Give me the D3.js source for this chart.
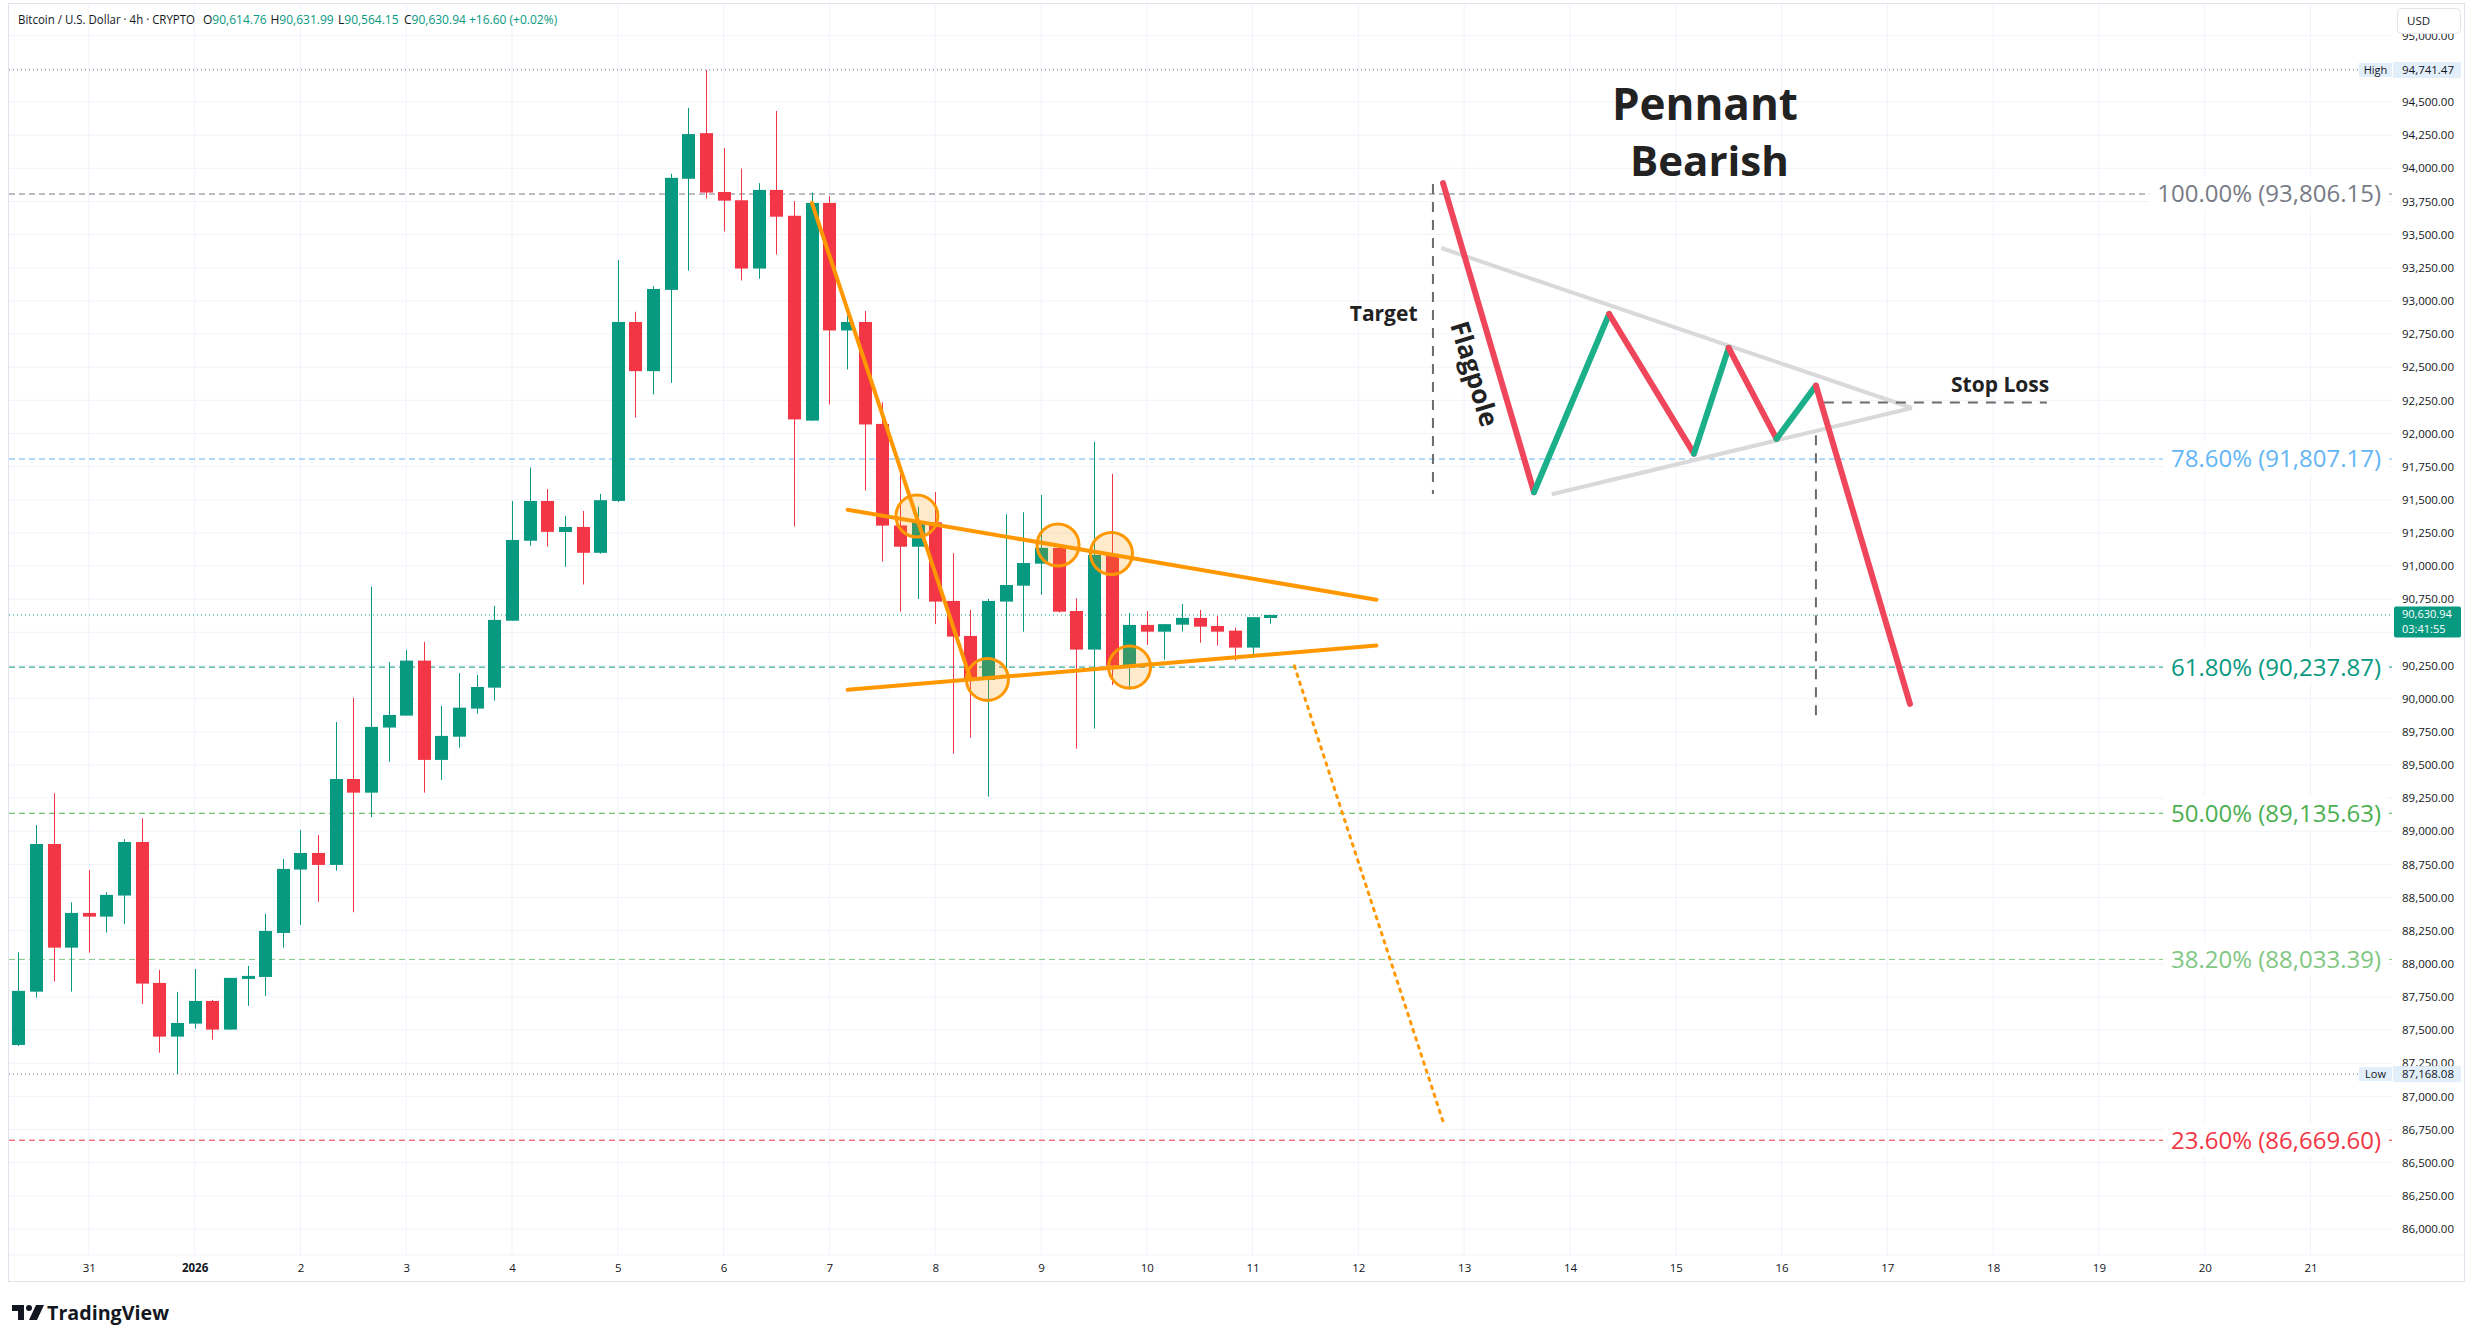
<!DOCTYPE html>
<html><head><meta charset="utf-8">
<script src="https://cdn.jsdelivr.net/npm/d3@7"></script>
<style>
html,body{margin:0;padding:0;background:#fff;}
svg{display:block;font-family:"Open Sans",sans-serif;}
</style></head><body>
<svg id="chart" width="2475" height="1343"></svg>
<script>
// ---------------- DATA ----------------
const candleStart = "2025-12-30T08:00:00Z"; // 4h candles
const opens  = [87388,87790,88904,88122,88384,88356,88515,88919,87856,87451,87549,87720,87504,87886,87901,88233,88711,88836,88746,89394,89291,89782,89872,90287,89538,89713,89925,90083,90588,91191,91491,91257,91295,91100,91491,92841,92470,93083,93921,94265,93821,93759,93244,93837,93642,92097,93739,92777,92841,92072,91306,91146,91330,90737,90473,90141,90732,90852,91018,91137,90661,90370,91084,90249,90556,90505,90558,90609,90548,90513,90385,90614.76];
const highs  = [88088,89047,89287,88464,88708,88540,88940,89098,87954,87788,87962,87728,87894,87984,88376,88791,89010,88972,89824,90007,90845,90277,90367,90428,89945,90192,90179,90699,91491,91743,91581,91379,91416,91544,93308,92918,93110,93959,94456,94741.47,94153,93998,93888,94433,93753,93817,93790,92894,92924,92235,91750,91448,91559,91097,90669,90752,91391,91406,91536,91154,90757,91936,91695,90646,90661,90563,90714,90669,90624,90535,90615,90631.99];
const lows   = [87380,87745,87866,87790,88084,88235,88301,87698,87330,87168.08,87511,87428,87504,87683,87758,88122,88293,88467,88703,88389,89106,89525,89872,89291,89387,89630,89887,89985,90586,91154,91147,90995,90861,91093,91483,92120,92295,92382,93228,93773,93524,93154,93167,93349,91299,92097,92218,92483,91570,91035,90656,90752,90563,89585,89706,89261,90161,90505,90784,90650,89623,89774,90103,90068,90405,90294,90505,90422,90400,90287,90337,90564.15];
const closes = [87796,88904,88122,88384,88356,88520,88919,87851,87451,87554,87720,87504,87894,87909,88248,88716,88836,88746,89394,89291,89787,89877,90287,89538,89719,89932,90088,90594,91197,91491,91258,91295,91100,91497,92841,92470,93090,93928,94258,93817,93756,93244,93837,93635,92106,93739,92777,92841,92068,91305,91146,91330,90732,90468,90141,90737,90857,91023,91137,90656,90370,91084,90249,90556,90505,90562,90609,90543,90505,90385,90614.76,90630.94];

const priceTicks = [86000,86250,86500,86750,87000,87250,87500,87750,88000,88250,88500,88750,89000,89250,89500,89750,90000,90250,90500,90750,91000,91250,91500,91750,92000,92250,92500,92750,93000,93250,93500,93750,94000,94250,94500,94750,95000];
const dayTickDates = ["2025-12-31","2026-01-01","2026-01-02","2026-01-03","2026-01-04","2026-01-05","2026-01-06","2026-01-07","2026-01-08","2026-01-09","2026-01-10","2026-01-11","2026-01-12","2026-01-13","2026-01-14","2026-01-15","2026-01-16","2026-01-17","2026-01-18","2026-01-19","2026-01-20","2026-01-21"];
const dayTickLabels = ["31","2026","2","3","4","5","6","7","8","9","10","11","12","13","14","15","16","17","18","19","20","21"];

const fibLevels = ["100.00%","78.60%","61.80%","50.00%","38.20%","23.60%"];
const fibPrices = [93806.15, 91807.17, 90237.87, 89135.63, 88033.39, 86669.60];
const fibColors = ["#787B86","#64B5F6","#089981","#4CAF50","#81C784","#F23645"];

const highPrice = 94741.47, lowPrice = 87168.08, lastPrice = 90630.94, countdown = "03:41:55";
const header = {title:"Bitcoin / U.S. Dollar · 4h · CRYPTO", o:"90,614.76", h:"90,631.99", l:"90,564.15", c:"90,630.94", chg:"+16.60 (+0.02%)"};

// orange annotations on the live chart
const orangeLines = [
  [["2026-01-06T20:02Z",93739],["2026-01-08T07:56Z",90156]],
  [["2026-01-07T04:08Z",91425],["2026-01-12T04:06Z",90746]],
  [["2026-01-07T04:08Z",90067],["2026-01-12T04:06Z",90400]]
];
const orangeDotted = [["2026-01-11T09:29Z",90247],["2026-01-12T19:29Z",86782]];
const orangeCircles = [["2026-01-07T19:51Z",91377],["2026-01-08T11:51Z",90145],["2026-01-09T03:52Z",91159],["2026-01-09T15:59Z",91095],["2026-01-09T20:06Z",90238]];

// schematic pennant diagram
const pennantPath = [["2026-01-12T19:12Z",93889],["2026-01-13T15:50Z",91557],["2026-01-14T08:53Z",92901],["2026-01-15T04:08Z",91848],["2026-01-15T12:00Z",92646],["2026-01-15T22:53Z",91960],["2026-01-16T07:48Z",92361],["2026-01-17T05:08Z",89960]];
const pennantUpper = [["2026-01-12T18:49Z",93399],["2026-01-17T05:35Z",92192]];
const pennantLower = [["2026-01-13T19:52Z",91542],["2026-01-17T05:35Z",92192]];
const targetLine = [["2026-01-12T16:55Z",93882],["2026-01-12T16:55Z",91544]];
const stopLine = [["2026-01-16T09:36Z",92234],["2026-01-18T12:12Z",92234]];
const breakLine = [["2026-01-16T07:48Z",91987],["2026-01-16T07:48Z",89832]];
const diagramTexts = [
  {t:"Pennant", at:["2026-01-15T06:37Z",94477], size:44, anchor:"middle", rot:0},
  {t:"Bearish", at:["2026-01-15T07:38Z",94055], size:42, anchor:"middle", rot:0},
  {t:"Target", at:["2026-01-12T13:25Z",92901], size:21, anchor:"end", rot:0},
  {t:"Flagpole", at:["2026-01-13T02:20Z",92449], size:26, anchor:"middle", rot:73},
  {t:"Stop Loss", at:["2026-01-17T14:27Z",92366], size:21, anchor:"start", rot:0}
];

// ---------------- LAYOUT ----------------
const svg = d3.select("#chart");
const plot = {left:9, right:2392, top:3, bottom:1255};
const x = d3.scaleUtc().domain([new Date("2025-12-30T06:07:00Z"), new Date("2026-01-21T18:29:00Z")]).range([10, 2392]);
const y = d3.scaleLinear().domain([86000, 94000]).range([1229, 168.3]);
const P = d => [x(new Date(d[0])), y(d[1])];
const GREEN = "#089981", RED = "#F23645";

svg.append("rect").attr("width",2475).attr("height",1343).attr("fill","#fff");

const defs = svg.append("defs");
defs.append("clipPath").attr("id","plotclip").append("rect")
  .attr("x",plot.left).attr("y",plot.top).attr("width",plot.right-plot.left).attr("height",plot.bottom-plot.top);
defs.append("clipPath").attr("id","axisclip").append("rect")
  .attr("x",2392).attr("y",34).attr("width",80).attr("height",plot.bottom-34);

const grid = svg.append("g").attr("clip-path","url(#plotclip)");
grid.selectAll(".hg").data(priceTicks).join("line")
  .attr("x1",plot.left).attr("x2",plot.right).attr("y1",d=>y(d)).attr("y2",d=>y(d))
  .attr("stroke","#F0F3FA").attr("stroke-width",1);
grid.selectAll(".vg").data(dayTickDates).join("line")
  .attr("x1",d=>x(new Date(d+"T00:00:00Z"))).attr("x2",d=>x(new Date(d+"T00:00:00Z")))
  .attr("y1",plot.top).attr("y2",plot.bottom)
  .attr("stroke","#F0F3FA").attr("stroke-width",1);

// fib levels
const fibG = svg.append("g");
fibPrices.forEach((p,i)=>{
  fibG.append("line").attr("x1",plot.left).attr("x2",plot.right).attr("y1",y(p)).attr("y2",y(p))
    .attr("stroke",fibColors[i]).attr("stroke-width",1).attr("stroke-dasharray","6,4");
});
fibPrices.forEach((p,i)=>{
  const bg = fibG.append("rect").attr("fill","#fff");
  const t = fibG.append("text").attr("x",2381).attr("y",y(p)).attr("dy","0.35em")
    .attr("text-anchor","end").attr("font-size",24).attr("fill",fibColors[i])
    .text(`${fibLevels[i]} (${d3.format(",.2f")(p)})`);
  const b = t.node().getBBox();
  bg.attr("x",b.x-8).attr("y",b.y).attr("width",b.width+14).attr("height",b.height);
});

// high / low / last lines
const lines = svg.append("g");
lines.append("line").attr("x1",plot.left).attr("x2",2359).attr("y1",y(highPrice)).attr("y2",y(highPrice))
  .attr("stroke","#787B86").attr("stroke-dasharray","1,3");
lines.append("line").attr("x1",plot.left).attr("x2",2362).attr("y1",y(lowPrice)).attr("y2",y(lowPrice))
  .attr("stroke","#787B86").attr("stroke-dasharray","1,3");
lines.append("line").attr("x1",plot.left).attr("x2",plot.right).attr("y1",y(lastPrice)).attr("y2",y(lastPrice))
  .attr("stroke",GREEN).attr("stroke-dasharray","1,3");

// candles
const candles = opens.map((o,i)=>({t:d3.utcHour.offset(new Date(candleStart),4*i), o, h:highs[i], l:lows[i], c:closes[i]}));
const step = x(d3.utcHour.offset(new Date(candleStart),4)) - x(new Date(candleStart));
const bw = step*0.74;
const cg = svg.append("g");
cg.selectAll(".wick").data(candles).join("line")
  .attr("x1",d=>Math.round(x(d.t))+0.5).attr("x2",d=>Math.round(x(d.t))+0.5)
  .attr("y1",d=>y(d.h)).attr("y2",d=>y(d.l))
  .attr("stroke",d=>d.c>=d.o?GREEN:RED).attr("stroke-width",1);
cg.selectAll(".body").data(candles).join("rect")
  .attr("x",d=>Math.round(x(d.t))+0.5-bw/2).attr("width",bw)
  .attr("y",d=>y(Math.max(d.o,d.c))).attr("height",d=>Math.max(3,Math.abs(y(d.o)-y(d.c))))
  .attr("fill",d=>d.c>=d.o?GREEN:RED);

// orange annotations
const og = svg.append("g");
og.selectAll(".oc").data(orangeCircles).join("circle")
  .attr("cx",d=>P(d)[0]).attr("cy",d=>P(d)[1]).attr("r",21)
  .attr("fill","rgba(255,152,0,0.2)").attr("stroke","#FF9800").attr("stroke-width",3);
og.selectAll(".ol").data(orangeLines).join("line")
  .attr("x1",d=>P(d[0])[0]).attr("y1",d=>P(d[0])[1]).attr("x2",d=>P(d[1])[0]).attr("y2",d=>P(d[1])[1])
  .attr("stroke","#FF9800").attr("stroke-width",4).attr("stroke-linecap","round");
og.append("line").attr("x1",P(orangeDotted[0])[0]).attr("y1",P(orangeDotted[0])[1])
  .attr("x2",P(orangeDotted[1])[0]).attr("y2",P(orangeDotted[1])[1])
  .attr("stroke","#FF9800").attr("stroke-width",3).attr("stroke-dasharray","2.5,6").attr("stroke-linecap","round");

// pennant diagram
const dg = svg.append("g");
[pennantUpper, pennantLower].forEach(l=>{
  dg.append("line").attr("x1",P(l[0])[0]).attr("y1",P(l[0])[1]).attr("x2",P(l[1])[0]).attr("y2",P(l[1])[1])
    .attr("stroke","#D9D9D9").attr("stroke-width",4);
});
[targetLine, breakLine, stopLine].forEach(l=>{
  dg.append("line").attr("x1",P(l[0])[0]).attr("y1",P(l[0])[1]).attr("x2",P(l[1])[0]).attr("y2",P(l[1])[1])
    .attr("stroke","#6B6B6B").attr("stroke-width",2).attr("stroke-dasharray","10,8");
});
for(let i=0;i<pennantPath.length-1;i++){
  const a=P(pennantPath[i]), b=P(pennantPath[i+1]);
  dg.append("line").attr("x1",a[0]).attr("y1",a[1]).attr("x2",b[0]).attr("y2",b[1])
    .attr("stroke", pennantPath[i+1][1] < pennantPath[i][1] ? "#F0465B" : "#1CB08A")
    .attr("stroke-width",6).attr("stroke-linecap","round");
}
diagramTexts.forEach(d=>{
  const [px,py]=P(d.at);
  dg.append("text").attr("transform",`translate(${px},${py}) rotate(${d.rot})`)
    .attr("dy","0.35em").attr("text-anchor",d.anchor).attr("font-size",d.size).attr("font-weight",700)
    .attr("fill","#222").text(d.t);
});

// last-price tag geometry (used to hide the axis labels it covers, as TradingView does)
const lastTop = y(lastPrice) - 8.5, lastBottom = lastTop + 31;
const shownTicks = priceTicks.filter(t => {
  const ty = y(t);
  if (Math.abs(ty - y(highPrice)) < 12) return false;
  if (ty > lastTop - 4 && ty < lastBottom + 8) return false;
  return true;
});
const yAxis = d3.axisRight(y).tickValues(shownTicks).tickFormat(d3.format(",.2f")).tickSize(0).tickPadding(0);
const ya = svg.append("g").attr("clip-path","url(#axisclip)").append("g").attr("transform","translate(2402,0)").call(yAxis);
ya.select(".domain").remove();
ya.selectAll("text").attr("font-size",11.5).attr("fill","#131722").attr("font-family","Open Sans");

// time axis
const xAxis = d3.axisBottom(x).tickValues(dayTickDates.map(d=>new Date(d+"T00:00:00Z")))
  .tickFormat((d,i)=>dayTickLabels[i]).tickSize(0).tickPadding(9);
const xa = svg.append("g").attr("transform",`translate(0,${plot.bottom})`).call(xAxis);
xa.select(".domain").remove();
xa.selectAll("text").attr("font-size",11.5).attr("fill","#131722").attr("font-family","Open Sans")
  .attr("font-weight",(d,i)=>dayTickLabels[i]==="2026"?700:400);

// frame
svg.append("line").attr("x1",8).attr("x2",2465).attr("y1",plot.bottom).attr("y2",plot.bottom).attr("stroke","#F0F3FA");
svg.append("rect").attr("x",8.5).attr("y",3.5).attr("width",2456).attr("height",1278).attr("fill","none").attr("stroke","#E0E3EB");

// high / low labels
function tagLabel(py, name, val){
  const g = svg.append("g");
  g.append("rect").attr("x",2359).attr("y",py-7).attr("width",33).attr("height",14).attr("fill","#E3EEFB");
  g.append("rect").attr("x",2393).attr("y",py-8).attr("width",68).attr("height",16).attr("fill","#E3EEFB");
  g.append("text").attr("x",2375.5).attr("y",py).attr("dy","0.35em").attr("text-anchor","middle").attr("font-size",11).attr("fill","#131722").text(name);
  g.append("text").attr("x",2402).attr("y",py).attr("dy","0.35em").attr("font-size",11.5).attr("fill","#131722").text(d3.format(",.2f")(val));
}
tagLabel(y(highPrice),"High",highPrice);
tagLabel(y(lowPrice),"Low",lowPrice);

// last price label
const lp = svg.append("g");
lp.append("rect").attr("x",2394).attr("y",lastTop).attr("width",67).attr("height",31).attr("rx",2).attr("fill",GREEN);
lp.append("text").attr("x",2402).attr("y",lastTop+8).attr("dy","0.35em").attr("font-size",11).attr("fill","#fff").text(d3.format(",.2f")(lastPrice));
lp.append("text").attr("x",2402).attr("y",lastTop+23).attr("dy","0.35em").attr("font-size",11).attr("fill","#fff").text(countdown);

// USD button
svg.append("rect").attr("x",2397.5).attr("y",8.5).attr("width",63).attr("height",25).attr("rx",4).attr("fill","#fff").attr("stroke","#E0E3EB");
svg.append("text").attr("x",2407).attr("y",21).attr("dy","0.35em").attr("font-size",11.5).attr("fill","#131722").text("USD");

// header
svg.append("text").attr("x",18).attr("y",20).attr("dy","0.35em").attr("font-size",12).attr("fill","#131722")
  .attr("textLength",177).attr("lengthAdjust","spacingAndGlyphs").text(header.title);
[["O",header.o,203],["H",header.h,270.5],["L",header.l,338],["C",header.c,404]].forEach(([k,v,px])=>{
  const t = svg.append("text").attr("x",px).attr("y",20).attr("dy","0.35em").attr("font-size",12).attr("fill","#131722");
  t.append("tspan").text(k);
  t.append("tspan").attr("fill",GREEN).text(v);
});
svg.append("text").attr("x",469).attr("y",20).attr("dy","0.35em").attr("font-size",12).attr("fill",GREEN).text(header.chg);

// TradingView logo
const logo = svg.append("g").attr("transform","translate(12,1305)");
logo.append("path").attr("d","M0,0H12V15H6V6H0Z").attr("fill","#131722");
logo.append("circle").attr("cx",17).attr("cy",3).attr("r",3).attr("fill","#131722");
logo.append("path").attr("d","M24,0H32L25,15H17Z").attr("fill","#131722");
svg.append("text").attr("x",47).attr("y",1313).attr("dy","0.35em").attr("font-size",19).attr("font-weight",700)
  .attr("fill","#131722").attr("textLength",122).attr("lengthAdjust","spacingAndGlyphs").text("TradingView");
</script>
</body></html>
